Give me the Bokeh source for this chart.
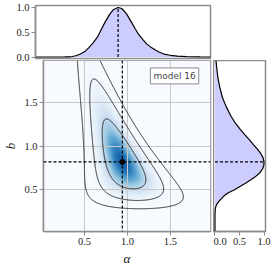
import numpy as np
from bokeh.plotting import figure
from bokeh.layouts import column, row
from bokeh.models import (LinearColorMapper, FixedTicker, PrintfTickFormatter,
                          Span, Label, Range1d)
from bokeh.palettes import Blues256
from bokeh.embed import file_html
from bokeh.resources import INLINE

# ---------------- data ----------------
best_alpha = 0.94
best_b = 0.82
label_text = "model 16"

# shape of the 2D posterior (banana in alpha vs log b)
ridge_slope = -0.33
ridge_curv = -0.13
width_alpha0 = 0.13
width_decay = -0.7
sigma_logb = 0.31
credible = [0.683, 0.954, 0.997]

alpha_marg_x = [0.022, 0.25, 0.35, 0.40, 0.43, 0.47, 0.52, 0.57, 0.61, 0.66, 0.71,
                0.76, 0.80, 0.85, 0.89, 0.94, 0.98, 1.03, 1.08, 1.13, 1.17, 1.22,
                1.26, 1.31, 1.36, 1.40, 1.45, 1.52, 1.60, 1.70, 1.85, 1.967]
alpha_marg_y = [0.0, 0.0, 0.001, 0.004, 0.01, 0.025, 0.06, 0.11, 0.18, 0.28, 0.40,
                0.58, 0.72, 0.87, 0.96, 1.0, 0.98, 0.88, 0.73, 0.57, 0.45, 0.34,
                0.26, 0.19, 0.135, 0.095, 0.06, 0.035, 0.018, 0.007, 0.002, 0.0005]

b_marg_y = [0.025, 0.20, 0.27, 0.30, 0.33, 0.355, 0.39, 0.43, 0.47, 0.50, 0.54,
            0.58, 0.62, 0.65, 0.70, 0.74, 0.78, 0.82, 0.87, 0.92, 0.97, 1.02, 1.08,
            1.13, 1.19, 1.26, 1.34, 1.45, 1.56, 1.67, 1.78, 1.90, 1.98]
b_marg_x = [0.0, 0.0, 0.004, 0.012, 0.03, 0.06, 0.11, 0.18, 0.28, 0.39, 0.51,
            0.63, 0.74, 0.82, 0.92, 0.97, 0.995, 1.0, 0.98, 0.93, 0.86, 0.78, 0.69,
            0.61, 0.52, 0.42, 0.33, 0.23, 0.15, 0.10, 0.06, 0.035, 0.02]

main_ticks = [0.5, 1.0, 1.5]
marg_ticks = [0.0, 0.5, 1.0]
alpha_lim = (0.022, 1.967)
b_lim = (0.025, 1.98)
top_lim = (-0.03, 1.04)
right_lim = (-0.03, 1.03)

# ---------------- styles ----------------
GRAY = "#8c8c8c"
TICK_FONT = "Liberation Serif"
FILL = "#ccccff"

# 2D density grid
ax = np.linspace(alpha_lim[0], alpha_lim[1], 351)
by = np.linspace(b_lim[0], b_lim[1], 351)
A, B = np.meshgrid(ax, by)
u = np.log(B / best_b)
ridge = best_alpha + ridge_slope * u + ridge_curv * u ** 2
s = width_alpha0 * np.exp(width_decay * u)
Z = np.exp(-0.5 * ((u / sigma_logb) ** 2 + ((A - ridge) / s) ** 2))
levels = sorted(1.0 - c for c in credible)

x_range = Range1d(*alpha_lim)
y_range = Range1d(*b_lim)


def style(p):
    p.outline_line_color = GRAY
    p.outline_line_width = 1.5
    p.background_fill_color = "white"
    p.border_fill_color = None
    for a in p.axis:
        a.axis_line_color = GRAY
        a.axis_line_width = 1.5
        a.major_tick_line_color = GRAY
        a.major_tick_in = 0
        a.major_tick_out = 4
        a.minor_tick_line_color = None
        a.major_label_text_font = TICK_FONT
        a.major_label_text_font_size = "10.5px"
        a.major_label_text_color = "#222222"
        a.major_label_standoff = 2
        a.axis_label_text_font = TICK_FONT
        a.axis_label_text_font_style = "italic"
        a.axis_label_text_font_size = "13px"
        a.axis_label_text_color = "#111111"
        a.axis_label_standoff = 3
        a.formatter = PrintfTickFormatter(format="%.1f")


# ---------------- main panel ----------------
p = figure(width=213, height=208, x_range=x_range, y_range=y_range,
           output_backend="svg", toolbar_location=None,
           min_border_left=35, min_border_right=3, min_border_top=0,
           min_border_bottom=32)
style(p)
p.background_fill_color = "#f7fbff"
cmap = LinearColorMapper(palette=list(reversed(Blues256)), low=0.0, high=1.22)
p.image(image=[Z], x=alpha_lim[0], y=b_lim[0], dw=alpha_lim[1] - alpha_lim[0],
        dh=b_lim[1] - b_lim[0], color_mapper=cmap, level="image")
p.contour(ax, by, Z, levels=levels, line_color="#262626", line_width=1.0)
p.xaxis.ticker = FixedTicker(ticks=main_ticks)
p.yaxis.ticker = FixedTicker(ticks=main_ticks)
p.xaxis.axis_label = "α"
p.yaxis.axis_label = "b"
p.grid.grid_line_color = "#c8c8c8"
p.grid.grid_line_width = 1
p.add_layout(Span(location=best_alpha, dimension="height", line_color="black",
                  line_dash="3 2", line_width=1.2))
p.add_layout(Span(location=best_b, dimension="width", line_color="black",
                  line_dash="3 2", line_width=1.2))
p.scatter([best_alpha], [best_b], size=5, color="black")
p.add_layout(Label(x=1.83, y=1.895, text=label_text, text_font="DejaVu Sans",
                   text_font_size="9px", text_align="right", text_baseline="top",
                   background_fill_color="white", border_line_color="#8c8c8c",
                   border_line_width=1, padding=3))

# ---------------- top marginal ----------------
pt = figure(width=213, height=64, x_range=x_range, y_range=Range1d(*top_lim),
            output_backend="svg", toolbar_location=None,
            min_border_left=35, min_border_right=3, min_border_top=5,
            min_border_bottom=6)
style(pt)
pt.xaxis.visible = False
pt.grid.visible = False
pt.yaxis.ticker = FixedTicker(ticks=marg_ticks)
pt.varea(x=alpha_marg_x, y1=0, y2=alpha_marg_y, fill_color=FILL)
pt.line(alpha_marg_x, alpha_marg_y, line_color="black", line_width=1.2)
pt.segment(x0=[best_alpha], y0=[0], x1=[best_alpha], y1=[max(alpha_marg_y)],
           line_color="black", line_dash="3 2", line_width=1.2)

# ---------------- right marginal ----------------
pr = figure(width=61, height=208, x_range=Range1d(*right_lim), y_range=y_range,
            output_backend="svg", toolbar_location=None,
            min_border_left=0, min_border_right=9, min_border_top=0,
            min_border_bottom=32)
style(pr)
pr.yaxis.visible = False
pr.grid.visible = False
pr.xaxis.ticker = FixedTicker(ticks=marg_ticks)
pr.harea(y=b_marg_y, x1=0, x2=b_marg_x, fill_color=FILL)
pr.line(b_marg_x, b_marg_y, line_color="black", line_width=1.2)
pr.segment(x0=[0], y0=[best_b], x1=[max(b_marg_x)], y1=[best_b],
           line_color="black", line_dash="3 2", line_width=1.2)

layout = column(pt, row(p, pr, margin=(-4, 0, 0, 0)))

open("out.html", "w").write(file_html(layout, INLINE))
